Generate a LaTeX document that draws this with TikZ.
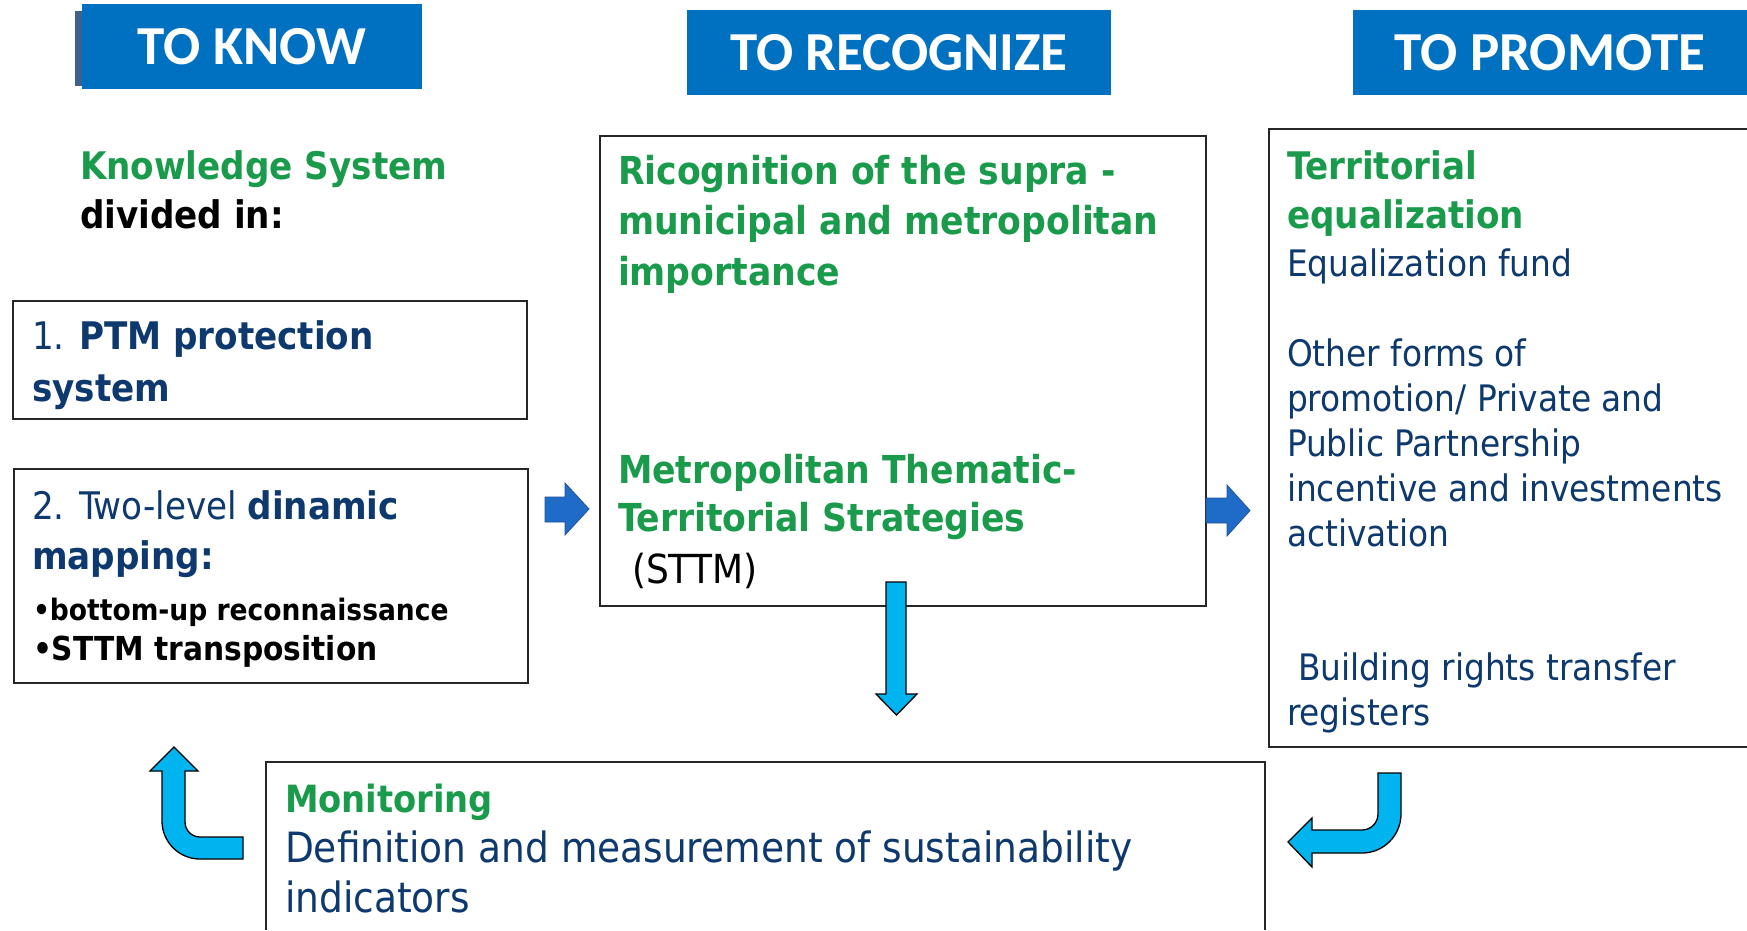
\documentclass[tikz,border=0pt]{standalone}
\usepackage{fontspec}
\setmainfont{DejaVu Sans Condensed}
\newfontfamily\hdrfont{Carlito}

\definecolor{hdrblue}{RGB}{0,112,192}
\definecolor{hdredge}{RGB}{62,96,140}
\definecolor{kgreen}{RGB}{26,155,75}
\definecolor{knavy}{RGB}{14,57,110}
\definecolor{flowblue}{RGB}{30,108,200}
\definecolor{flowedge}{RGB}{35,80,150}
\definecolor{loopcyan}{RGB}{0,180,240}

\newcommand{\fs}[2]{\fontsize{#1}{#2}\selectfont}
% top-aligned multi-line block whose baseline is that of its first line
\newcommand{\blockpar}[2]{\parbox[t]{#1}{\raggedright\leavevmode #2}}

\tikzset{
  hdr/.style={fill=hdrblue, text=white, font=\hdrfont\bfseries\fs{55}{60},
              minimum height=85pt, inner sep=0pt},
  txt/.style={anchor=base west, inner sep=0pt, outer sep=0pt},
  frame/.style={draw=black!85, line width=1.3pt},
  flow/.style={fill=flowblue, draw=flowedge, line width=0.8pt},
  loop/.style={fill=loopcyan, draw=black, line width=1.3pt},
}

\begin{document}
\begin{tikzpicture}[x=1pt,y=-1pt]
\useasboundingbox (0,0) rectangle (1747,930);
\fill[white] (0,0) rectangle (1747,930);

% column headers
\fill[hdredge] (75,11) rectangle (83,86);
\node[hdr, minimum width=340pt] (know) at (252,46.5) {TO KNOW};
\node[hdr, minimum width=424pt] (recog) at (899,52.5) {TO RECOGNIZE};
\node[hdr, minimum width=394pt] (promo) at (1550,52.5) {TO PROMOTE};

% frames
\draw[frame] (13,301) rectangle (527,419);
\draw[frame] (14,469) rectangle (528,683);
\draw[frame] (600,136) rectangle (1206,606);
\draw[frame] (1747,129) -- (1269,129) -- (1269,747) -- (1747,747);
\draw[frame] (266,930) -- (266,762) -- (1265,762) -- (1265,930);

% left column
\node[txt] (ks) at (80,179) {\blockpar{440pt}{\fs{38}{49}\bfseries\color{kgreen}Knowledge System\\\color{black}divided in:}};
\node[txt] (ptm) at (32,349) {\blockpar{480pt}{\fs{38}{52}\color{knavy}1. \bfseries PTM protection\\system}};
\node[txt] (dyn) at (32,519) {\blockpar{480pt}{\fs{38}{50}\color{knavy}2. Two-level \bfseries dinamic\\mapping:}};
\node[txt] (bu) at (33,620) {\fs{29.5}{36}\bfseries •bottom-up reconnaissance};
\node[txt] (st) at (33,660) {\fs{33}{40}\bfseries •STTM transposition};

% middle column
\node[txt] (rec) at (618,184) {\blockpar{570pt}{\fs{38.5}{50.5}\bfseries\color{kgreen}Ricognition of the supra -\\municipal and metropolitan\\importance}};
\node[txt] (mts) at (618,483) {\blockpar{570pt}{\fs{38.5}{48}\bfseries\color{kgreen}Metropolitan Thematic-\\Territorial Strategies}};
\node[txt] (sttm) at (632,583) {\fs{40}{48}(STTM)};

% right column
\node[txt] (teq) at (1287,179) {\blockpar{450pt}{\fs{38}{49}\bfseries\color{kgreen}Territorial\\equalization}};
\node[txt] (fund) at (1287,276) {\fs{36.5}{45}\color{knavy}Equalization fund};
\node[txt] (other) at (1287,366) {\blockpar{455pt}{\fs{36.5}{45.2}\color{knavy}Other forms of\\promotion/ Private and\\Public Partnership\\incentive and investments\\activation}};
\node[txt] (brt) at (1287,680) {\blockpar{455pt}{\fs{36.5}{45}\color{knavy}\hspace*{11pt}Building rights transfer\\registers}};

% bottom row
\node[txt] (mon) at (285,812) {\blockpar{970pt}{\fs{41.7}{50}\color{knavy}{\fs{37.5}{50}\bfseries\color{kgreen}Monitoring}\\Definition and measurement of sustainability\\indicators}};

% flow arrows
\draw[flow] (545,497) -- (565,497) -- (565,483) -- (589,509) -- (565,535) -- (565,522) -- (545,522) -- cycle;
\draw[flow] (1206,498) -- (1227,498) -- (1227,485) -- (1250,510.5) -- (1227,536) -- (1227,523) -- (1206,523) -- cycle;
\draw[loop] (886,582) -- (906,582) -- (906,694) -- (917,694) -- (896.5,715) -- (876,694) -- (886,694) -- cycle;
\draw[loop] (174,747) -- (198,771) -- (185,771) -- (185,822) .. controls (185,830.3) and (191.7,837) .. (200,837) -- (243,837) -- (243,859) -- (200,859) .. controls (179,859) and (162,842) .. (162,821) -- (162,771) -- (150,771) -- cycle;
\draw[loop] (1378,773) -- (1401,773) -- (1401,814) .. controls (1401,835.5) and (1383.5,853) .. (1362,853) -- (1312,853) -- (1312,867) -- (1288,842) -- (1312,818) -- (1312,830) -- (1362,830) .. controls (1370.8,830) and (1378,822.8) .. (1378,814) -- cycle;
\end{tikzpicture}
\end{document}
